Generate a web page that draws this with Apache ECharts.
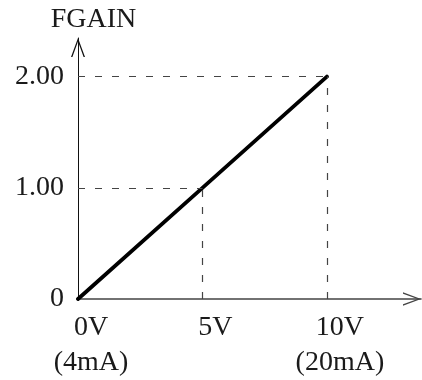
<!DOCTYPE html>
<html>
<head>
<meta charset="utf-8">
<script src="https://cdn.jsdelivr.net/npm/echarts@6/dist/echarts.min.js"></script>
<style>
html,body{margin:0;padding:0;background:#fff;}
#chart{width:422px;height:380px;}
</style>
</head>
<body>
<div id="chart"></div>
<script>
// Data
var xValues = [0, 5, 10];            // input voltage (V)
var yValues = [0, 1, 2];             // FGAIN
var xTickLabels = ['0V\n(4mA)', '5V', '10V\n(20mA)'];
var yTickLabels = ['0', '1.00', '2.00'];
var yAxisName = 'FGAIN';

var FONT = '"Liberation Serif", "Times New Roman", serif';
var TEXT = '#1a1a1a';

function lookup(vals, labels) {
  return function (v) {
    for (var i = 0; i < vals.length; i++) {
      if (Math.abs(vals[i] - v) < 1e-9) return labels[i];
    }
    return '';
  };
}

// Build guide lines from data points
var guides = [];
for (var i = 0; i < xValues.length; i++) {
  if (xValues[i] === 0 && yValues[i] === 0) continue;
  guides.push([{ coord: [0, yValues[i]] }, { coord: [xValues[i], yValues[i]] }]);
  guides.push([{ coord: [xValues[i], 0] }, { coord: [xValues[i], yValues[i]] }]);
}

var seriesData = xValues.map(function (x, i) { return [x, yValues[i]]; });

var chevronUp = 'path://M7,0 L14,19 L12.6,19 L7,3.6 L1.4,19 L0,19 Z';

var chart = echarts.init(document.getElementById('chart'), null, { renderer: 'canvas' });
chart.setOption({
  animation: false,
  backgroundColor: '#fff',
  grid: { left: 78, top: 38, right: 1, bottom: 78, containLabel: false },
  xAxis: {
    type: 'value',
    min: 0,
    max: 13.78,
    interval: 5,
    splitLine: { show: false },
    axisTick: { show: false },
    axisLine: {
      show: true,
      lineStyle: { color: '#444', width: 1.6 },
      symbol: ['none', chevronUp],
      symbolSize: [15, 18],
      symbolOffset: [0, -9]
    },
    axisLabel: {
      show: true,
      showMaxLabel: false,
      formatter: lookup(xValues, xTickLabels),
      fontFamily: FONT,
      fontSize: 28,
      lineHeight: 35,
      color: TEXT,
      margin: 11,
      align: 'center',
      padding: [0, 0, 0, 26]
    }
  },
  yAxis: {
    type: 'value',
    min: 0,
    max: 2.347,
    interval: 1,
    name: yAxisName,
    nameLocation: 'end',
    nameGap: 4,
    nameTextStyle: {
      fontFamily: FONT,
      fontSize: 28,
      color: TEXT,
      padding: [0, 0, 0, 31]
    },
    splitLine: { show: false },
    axisTick: { show: false },
    axisLine: {
      show: true,
      lineStyle: { color: '#111', width: 1 },
      symbol: ['none', chevronUp],
      symbolSize: [14, 19],
      symbolOffset: [0, -9.5]
    },
    axisLabel: {
      show: true,
      showMaxLabel: false,
      formatter: lookup(yValues, yTickLabels),
      fontFamily: FONT,
      fontSize: 28,
      color: TEXT,
      margin: 14
    }
  },
  series: [{
    type: 'line',
    data: seriesData,
    symbol: 'none',
    lineStyle: { color: '#000', width: 3.8, cap: 'round' },
    z: 3,
    markLine: {
      silent: true,
      symbol: ['none', 'none'],
      label: { show: false },
      lineStyle: { color: '#444', width: 1.2, type: [7, 10] },
      emphasis: { disabled: true },
      data: guides
    }
  }]
});
</script>
</body>
</html>
